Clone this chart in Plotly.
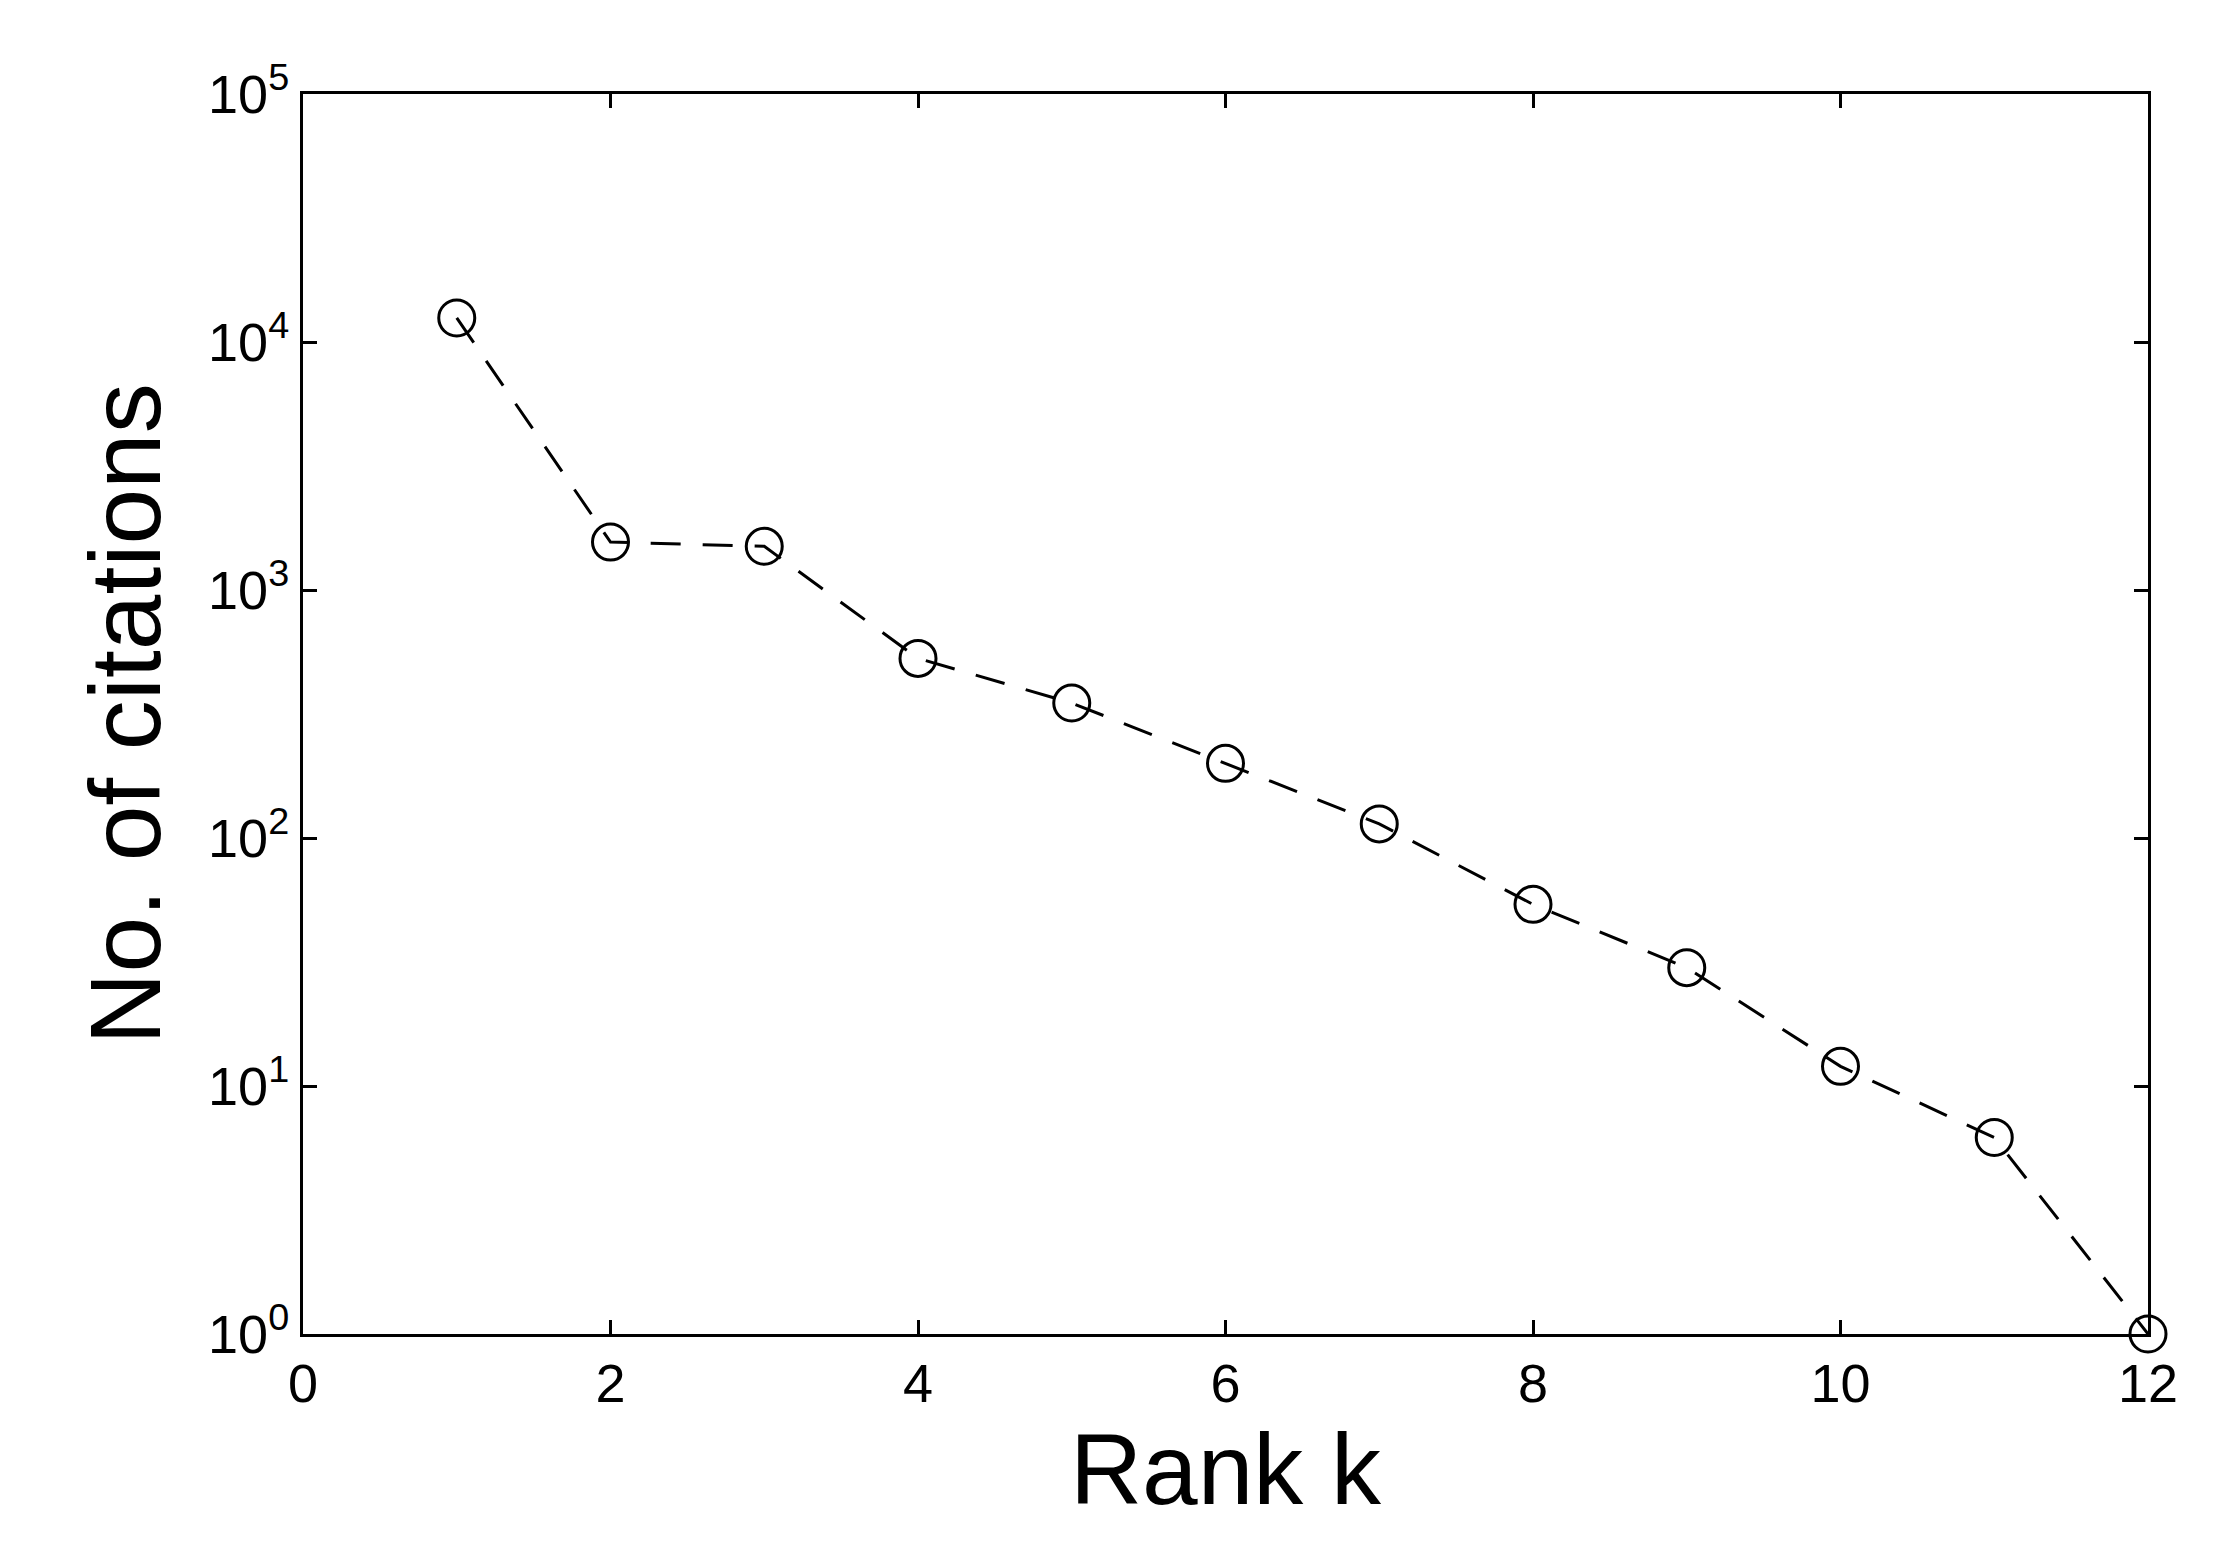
import plotly.graph_objects as go

rank = [1, 2, 3, 4, 5, 6, 7, 8, 9, 10, 11, 12]
citations = [12500, 1560, 1500, 530, 350, 200, 114, 54, 30, 12, 6.2, 1]

ytickvals = [1, 10, 100, 1000, 10000, 100000]
yticktext = ["10<sup>%d</sup>" % i for i in range(6)]

fig = go.Figure()
fig.add_trace(go.Scatter(
    x=rank, y=citations, mode="lines+markers",
    line=dict(color="black", width=3, dash="30px,22px"),
    marker=dict(symbol="circle-open", size=36, color="black", line=dict(width=3)),
    cliponaxis=False, showlegend=False))

axis = dict(showgrid=False, zeroline=False, showline=True, linecolor="black", linewidth=3,
            mirror="ticks", ticks="inside", ticklen=14, tickwidth=3, tickcolor="black",
            tickfont=dict(size=54, color="black"))
fig.update_xaxes(axis, range=[0, 12], tickvals=[0, 2, 4, 6, 8, 10, 12],
                 title=dict(text="Rank k", font=dict(size=100, color="black"), standoff=15))
fig.update_yaxes(axis, type="log", range=[0, 5], tickvals=ytickvals, ticktext=yticktext,
                 title=dict(text="No. of citations", font=dict(size=100, color="black"), standoff=15))
fig.update_layout(width=2229, height=1567, paper_bgcolor="white", plot_bgcolor="white",
                  font=dict(family="Liberation Sans, Arial"),
                  margin=dict(l=295, r=89, t=86, b=241))
fig.write_html("out.html")
